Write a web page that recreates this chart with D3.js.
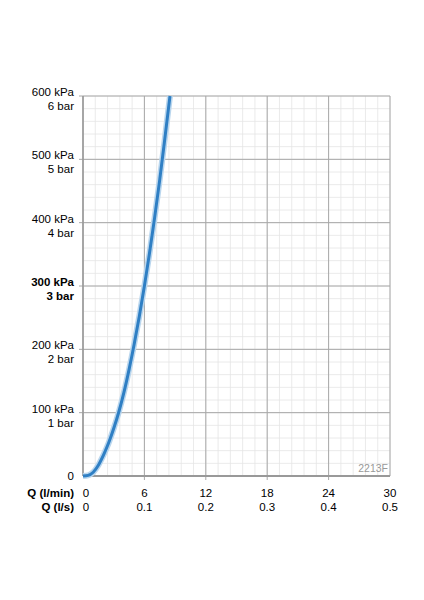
<!DOCTYPE html><html><head><script src="https://cdn.jsdelivr.net/npm/d3@7"></script>
<style>body{margin:0;background:#fff}text{font-family:"Liberation Sans",Arial,sans-serif}</style></head><body>
<svg id="c" width="424" height="600"></svg>
<script>
const yTicks=[0,100,200,300,400,500,600];
const yKpa=["0","100 kPa","200 kPa","300 kPa","400 kPa","500 kPa","600 kPa"];
const yBar=["","1 bar","2 bar","3 bar","4 bar","5 bar","6 bar"];
const xTicks=[0,6,12,18,24,30];
const xLs=["0","0.1","0.2","0.3","0.4","0.5"];
const curveQ=[0,0.5,1,1.5,2,2.5,3,3.5,4,4.5,5,5.5,6,6.5,7,7.5,8,8.5];
const curveP=[0,1,6,17,33,52,75,101,132,168,208,252,300,352,408,468,533,600];
const svg=d3.select("#c");
const x=d3.scaleLinear().domain([0,30]).range([83,390]);
const y=d3.scaleLinear().domain([0,600]).range([476,96]);
const g=svg.append("g");
const fs=11.5;
for(let v=0;v<=30;v+=1.2){g.append("line").attr("x1",x(v)).attr("x2",x(v)).attr("y1",y(0)).attr("y2",y(600)).attr("stroke","#e4e4e4").attr("stroke-width",0.8);}
for(let v=0;v<=600;v+=20){g.append("line").attr("y1",y(v)).attr("y2",y(v)).attr("x1",x(0)).attr("x2",x(30)).attr("stroke","#e4e4e4").attr("stroke-width",0.8);}
xTicks.forEach(v=>g.append("line").attr("x1",x(v)).attr("x2",x(v)).attr("y1",y(0)+(v%30?4:0)).attr("y2",y(600)).attr("stroke","#a8a8a8").attr("stroke-width",1));
yTicks.forEach(v=>g.append("line").attr("y1",y(v)).attr("y2",y(v)).attr("x1",x(0)-(v?4:0)).attr("x2",x(30)).attr("stroke","#a8a8a8").attr("stroke-width",1));
g.append("line").attr("x1",x(0)).attr("x2",x(30)).attr("y1",y(0)).attr("y2",y(0)).attr("stroke","#999").attr("stroke-width",2);
g.append("line").attr("x1",x(0)).attr("x2",x(0)).attr("y1",y(0)).attr("y2",y(600)).attr("stroke","#999").attr("stroke-width",1.5);
yTicks.forEach((v,i)=>{
 const bold=v===300?"bold":"normal";
 if(v===0){g.append("text").attr("x",74).attr("y",y(v)+4).attr("text-anchor","end").attr("font-size",fs).text("0");return;}
 g.append("text").attr("x",74).attr("y",y(v)).attr("text-anchor","end").attr("font-size",fs).attr("font-weight",bold).text(yKpa[i]);
 g.append("text").attr("x",74).attr("y",y(v)+14).attr("text-anchor","end").attr("font-size",fs).attr("font-weight",bold).text(yBar[i]);
});
xTicks.forEach((v,i)=>{
 g.append("text").attr("x",x(v)+(i?0:3)).attr("y",497).attr("text-anchor","middle").attr("font-size",fs).text(v);
 g.append("text").attr("x",x(v)+(i?0:3)).attr("y",511).attr("text-anchor","middle").attr("font-size",fs).text(xLs[i]);
});
g.append("text").attr("x",74).attr("y",497).attr("text-anchor","end").attr("font-size",fs).attr("font-weight","bold").text("Q (l/min)");
g.append("text").attr("x",74).attr("y",511).attr("text-anchor","end").attr("font-size",fs).attr("font-weight","bold").text("Q (l/s)");
g.append("text").attr("x",388).attr("y",472).attr("text-anchor","end").attr("font-size",10.5).attr("fill","#999").text("2213F");
const data=curveQ.map((q,i)=>[q,curveP[i]]);
const line=d3.line().x(d=>x(d[0])).y(d=>y(d[1])).curve(d3.curveMonotoneX);
g.append("path").attr("d",line(data)).attr("fill","none").attr("stroke","#b9d6ee").attr("stroke-width",6);
g.append("path").attr("d",line(data)).attr("fill","none").attr("stroke","#2f7fc4").attr("stroke-width",3);
</script></body></html>
